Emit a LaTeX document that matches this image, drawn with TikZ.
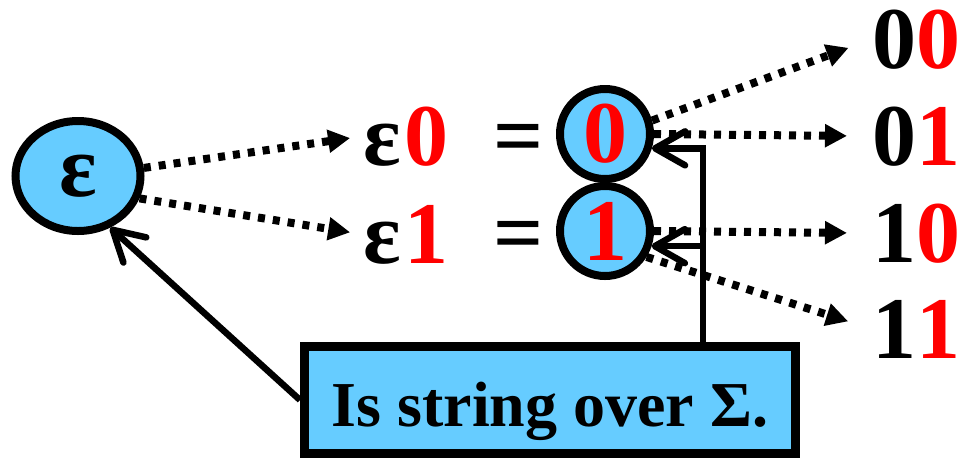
\documentclass[tikz,border=0pt]{standalone}
\usepackage{fontspec}
\setmainfont{Liberation Serif}
\usetikzlibrary{shapes.geometric,arrows.meta}
\definecolor{sky}{HTML}{66CCFF}
\begin{document}
\begin{tikzpicture}[x=1pt,y=-1pt,
  big/.style={font=\fontsize{88}{90}\selectfont\bfseries, inner sep=0pt},
  circ/.style={circle, draw, line width=8pt, fill=sky, minimum size=90pt, inner sep=0pt, big, text=red},
  dotarrow/.style={line width=8pt, dash pattern=on 7pt off 8pt, -{Triangle[length=22pt,width=22pt]}},
  solidarrow/.style={line width=6.5pt, -{Straight Barb[round,length=30pt,width=34pt]}}]
\useasboundingbox (0,0) rectangle (961,459);
\node[ellipse, draw, line width=8pt, fill=sky, minimum width=125pt, minimum height=110pt, big] (eps) at (78,176) {ε};
\node[big, anchor=base west] (e0) at (363,165) {ε\hspace{4pt}\textcolor{red}{0}};
\node[big, anchor=base west] (e1) at (363,263) {ε\hspace{4pt}\textcolor{red}{1}};
\node[big, anchor=base] (q0) at (519,165) {=};
\node[big, anchor=base] (q1) at (519,262) {=};
\node[circ] (c0) at (605,134) {0};
\node[circ] (c1) at (605,231) {1};
\node[big, anchor=base west] (w00) at (872,68) {0\textcolor{red}{0}};
\node[big, anchor=base west] (w01) at (872,165) {0\textcolor{red}{1}};
\node[big, anchor=base west] (w10) at (872,262) {1\textcolor{red}{0}};
\node[big, anchor=base west] (w11) at (872,358) {1\textcolor{red}{1}};
\node[draw, line width=9pt, fill=sky, minimum width=491pt, minimum height=107pt, inner sep=0pt, text height=60pt, text depth=8pt, font=\fontsize{64}{66}\selectfont\bfseries] (box) at (550,400) {Is string over Σ.};
\draw[dotarrow, shorten >=13pt] (eps.7) -- (e0.west);
\draw[dotarrow, shorten >=13pt] (eps.-20) -- (e1.west);
\draw[dotarrow, shorten >=25pt] (c0.16) -- (w00.west);
\draw[dotarrow, shorten >=25pt] (c0.east) -- (w01.west);
\draw[dotarrow, shorten >=25pt] (c1.east) -- (w10.west);
\draw[dotarrow, shorten >=25pt] (c1.-32) -- (w11.west);
\coordinate (vx) at (703,0);
\draw[solidarrow] (box.north -| vx) |- (c0.-17);
\draw[solidarrow] (vx |- c1.-18) -- (c1.-18);
\draw[solidarrow] (box.west) -- (eps.-58);
\end{tikzpicture}
\end{document}
